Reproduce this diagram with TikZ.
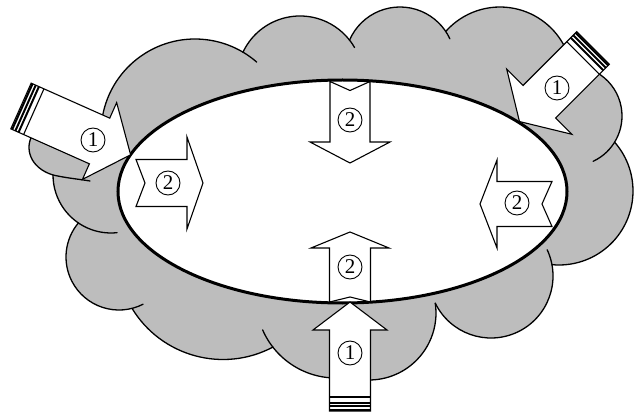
\documentclass[tikz,border=0pt]{standalone}
\usepackage{fontspec}
\setmainfont{Liberation Serif}
\usetikzlibrary{calc}

% straight arrow with a striped end cap: start, angle, tube length, head length, tube half width, head half width
\newcommand\pipearrow[6]{%
  \begin{scope}[shift={#1}, rotate={-1*(#2)}]
    \draw[arrowbody] (0,-#5) -- (#3,-#5) -- (#3,-#6) -- ({#3+#4},0) -- (#3,#6) -- (#3,#5) -- (0,#5) -- cycle;
    \foreach \s in {1.5,5,8.5} \draw[stripe] (\s,-#5) -- (\s,#5);
    \draw[line width=1.1pt] (14,-#5) -- (14,#5);
  \end{scope}}

% arrow with a notched tail: tail middle, angle, tube length, head length, tube half width, head half width, notch depth
\newcommand\chevarrow[7]{%
  \begin{scope}[shift={#1}, rotate={-1*(#2)}]
    \draw[arrowbody] (0,-#5) -- (#3,-#5) -- (#3,-#6) -- ({#3+#4},0) -- (#3,#6) -- (#3,#5) -- (0,#5) -- (#7,0) -- cycle;
  \end{scope}}

\begin{document}
\begin{tikzpicture}[x=1pt,y=-1pt,
  cloudfill/.style={fill=black!26},
  cloudline/.style={line width=1.3pt, line cap=round},
  rim/.style={line width=3pt},
  arrowbody/.style={fill=white, draw=black, line width=1.1pt, line join=miter},
  stripe/.style={line width=2pt},
  num/.style={circle, draw, line width=0.9pt, minimum size=24pt, inner sep=0pt,
              font=\fontsize{21}{21}\selectfont}]

\fill[white] (0,0) rectangle (637,414);
\useasboundingbox (0,0) rectangle (637,414);

% cloud body
\fill[cloudfill] (102,117) -- (243,52) -- (349,40) -- (446,31) -- (565,45) -- (600,73)
  -- (614,142) -- (552,265) -- (435,303) -- (357,379) -- (273,347) -- (132,308)
  -- (78,223) -- (53,175) .. controls (30,168) and (24,148) .. (33,134) -- (21,106) -- cycle;
\foreach \cx/\cy/\r in {195/133/94, 300/79/63, 400/62/55, 500/79.5/72.5, 572/116/50,
    559/191/74, 491/276/62, 369/313/67, 336/298/80, 223/253/106.5, 119/257/53, 111/175/58}
  \fill[cloudfill] (\cx,\cy) circle[radius=\r];

% cloud outline, one arc per bump
\foreach \cx/\cy/\r/\a/\b in {195/133/94/-170/-49, 300/79/63/-155/-30, 400/62/55/-157/-25,
    500/79.5/72.5/-138.5/-25, 572/116/50/-100/65, 559/191/74/-41/95.4, 491/276/62/-25/154,
    369/313/67/-8.4/100, 336/298/80/80/156.5, 223/253/106.5/62/148.7, 119/257/53/63/220,
    111/175/58/84/180}
  \draw[cloudline] (\cx,\cy) ++(\a:\r) arc[start angle=\a, end angle=\b, radius=\r];
\draw[cloudline] (33,134) .. controls (24,148) and (30,168) .. (53,175)
  .. controls (66,178) and (78,179) .. (90,181);

% inner region
\draw[rim, fill=white] (342.5,191.5) ellipse[x radius=224.5, y radius=111.5];

% arrows inside the ellipse
\chevarrow{(136,183)}{0}{51}{16}{23.5}{46}{9}
\chevarrow{(552,204)}{180}{55}{17}{22.5}{44}{10}
\chevarrow{(350,81.5)}{90}{60.5}{21}{20}{40}{9}
\chevarrow{(350,302)}{-90}{54}{16}{20.5}{39}{5}

% arrows coming in from outside
\pipearrow{(21,106)}{24}{86}{34}{25}{42}
\pipearrow{(593,48)}{135}{76}{28}{23}{46}
\pipearrow{(350,411)}{-90}{81}{28}{20.5}{37}

% labels
\node[num] (l1) at (93,140) {1};
\node[num] (r1) at (557,88) {1};
\node[num] (b1) at (350,353) {1};
\node[num] (l2) at (168,183) {2};
\node[num] (r2) at (517,203) {2};
\node[num] (t2) at (350,120) {2};
\node[num] (b2) at (350,267) {2};
\end{tikzpicture}
\end{document}
